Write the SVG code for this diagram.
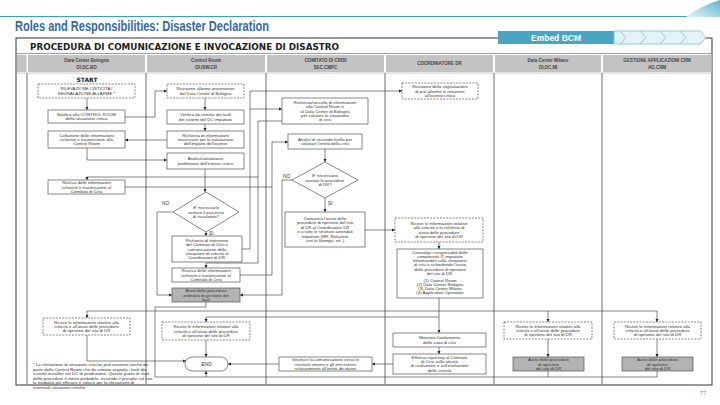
<svg xmlns="http://www.w3.org/2000/svg" width="720" height="405" viewBox="0 0 720 405">
<defs>
<style>
.t{font-family:"Liberation Sans",Arial,sans-serif;font-size:4.3px;fill:#333;text-anchor:middle}
.h{font-family:"Liberation Sans",Arial,sans-serif;font-size:4.5px;font-weight:bold;fill:#444;text-anchor:middle}
.b{fill:#fff;stroke:#555;stroke-width:0.7}
.d{fill:#fff;stroke:#555;stroke-width:0.7;stroke-dasharray:2 1.2}
.g{fill:#b3b3b3;stroke:#555;stroke-width:0.7}
.c{fill:none;stroke:#333;stroke-width:0.6}
.ca{fill:none;stroke:#333;stroke-width:0.6;marker-end:url(#ah)}
.lane{stroke:#8f8f8f;stroke-width:1.3}
.hc{fill:#c3c3c3}
.lbl{font-family:"Liberation Sans",Arial,sans-serif;font-size:4.8px;fill:#333}
.note{font-family:"Liberation Sans",Arial,sans-serif;font-size:4.4px;fill:#333}
</style>
<marker id="ah" viewBox="0 0 6 6" refX="6" refY="3" markerWidth="3.2" markerHeight="3.2" markerUnits="userSpaceOnUse" orient="auto"><path d="M0,0 L6,3 L0,6 z" fill="#222"/></marker>
<linearGradient id="sw" x1="0" y1="1" x2="1" y2="0"><stop offset="0" stop-color="#e8f5f8"/><stop offset="1" stop-color="#5cb6cb"/></linearGradient>
</defs>
<rect width="720" height="405" fill="#fff"/>

<!-- page header -->
<line x1="0" y1="16.5" x2="720" y2="16.5" stroke="#3e9fb6" stroke-width="1.2"/>
<path d="M686,17 Q700,6 720,0 L720,17 Z" fill="url(#sw)"/>
<text x="15" y="31" font-family="'Liberation Sans Narrow','Liberation Sans',Arial,sans-serif" font-size="14" font-weight="bold" fill="#3468a8" textLength="254" lengthAdjust="spacingAndGlyphs">Roles and Responsibilities: Disaster Declaration</text>

<!-- table frame -->
<rect x="16" y="38" width="696" height="347" fill="none" stroke="#333" stroke-width="1"/>
<text x="30" y="49.5" font-family="'DejaVu Sans',Verdana,sans-serif" font-size="8.3" font-weight="bold" fill="#222" textLength="309" lengthAdjust="spacingAndGlyphs">PROCEDURA DI COMUNICAZIONE E INVOCAZIONE DI DISASTRO</text>
<line x1="16" y1="53.5" x2="712" y2="53.5" stroke="#888" stroke-width="0.8"/>

<g id="embed_bcm">
<rect x="498" y="31" width="116" height="13" fill="#4aa5c3"/>
<text x="556" y="41" font-family="'Liberation Sans Narrow','Liberation Sans',Arial,sans-serif" font-size="9" font-weight="bold" fill="#fff" text-anchor="middle" textLength="50" lengthAdjust="spacingAndGlyphs">Embed BCM</text>
<polygon points="614,31 700,31 706,37.5 700,44 614,44" fill="#e4f3f8" stroke="#79c3d6" stroke-width="0.8"/>
<g fill="none" stroke="#79c3d6" stroke-width="0.8">
<polyline points="620,31 626,37.5 620,44"/><polyline points="640,31 646,37.5 640,44"/><polyline points="660,31 666,37.5 660,44"/><polyline points="680,31 686,37.5 680,44"/>
</g>
</g>

<g id="headers">
<rect class="hc" x="17" y="55" width="9.5" height="17"/>
<rect class="hc" x="28" y="55" width="117" height="17"/>
<rect class="hc" x="147" y="55" width="118" height="17"/>
<rect class="hc" x="267" y="55" width="117" height="17"/>
<rect class="hc" x="386" y="55" width="107" height="17"/>
<rect class="hc" x="495" y="55" width="106" height="17"/>
<rect class="hc" x="603" y="55" width="108.5" height="17"/>
<text class="h" x="86.5" y="61.5">Data Center Bologna</text><text class="h" x="86.5" y="68.5">OI.DC.BO</text>
<text class="h" x="206" y="61.5">Control Room</text><text class="h" x="206" y="68.5">OI.ISW.CR</text>
<text class="h" x="325.5" y="61.5">COMITATO DI CRISI</text><text class="h" x="325.5" y="68.5">SEC.CMPC</text>
<text class="h" x="439.5" y="65">COORDINATORE DR</text>
<text class="h" x="548" y="61.5">Data Center Milano</text><text class="h" x="548" y="68.5">OI.DC.MI</text>
<text class="h" x="657" y="61.5">GESTIONE APPLICAZIONI CRM</text><text class="h" x="657" y="68.5">AO.CRM</text>
</g>
<g id="lanes">
<line class="lane" x1="27" y1="73" x2="27" y2="385"/>
<line class="lane" x1="146" y1="73" x2="146" y2="385"/>
<line class="lane" x1="266" y1="73" x2="266" y2="385"/>
<line class="lane" x1="385" y1="73" x2="385" y2="385"/>
<line class="lane" x1="494" y1="73" x2="494" y2="385"/>
<line class="lane" x1="602" y1="73" x2="602" y2="385"/>
<line x1="16" y1="73" x2="712" y2="73" stroke="#aaa" stroke-width="0.6"/>
</g>

<!-- connectors -->
<g id="connectors">
<path class="ca" d="M87,98 V110"/>
<path class="ca" d="M125,117 H155 V91 H167"/>
<path class="ca" d="M205,98 V110"/>
<path class="ca" d="M205,124 V131"/>
<path class="ca" d="M167,140 H125"/>
<path class="ca" d="M87,148 V160 H167"/>
<path class="ca" d="M205,169 V192"/>
<path class="ca" d="M173,212 H157 V295 H172"/>
<path class="ca" d="M206,232 V236"/>
<path class="ca" d="M242,249 H250 V91 H402"/>
<path class="ca" d="M250,109 H282"/>
<path class="ca" d="M282,121 H258 V263 H206 V268"/>
<path class="ca" d="M258,177 H87 V180"/>
<path class="ca" d="M125,187 H272 V142 H288"/>
<path class="c" d="M240,275 H272 V187"/>
<path class="ca" d="M325,149 V162"/>
<path class="ca" d="M292,180 H282 V295 H240"/>
<path class="ca" d="M325,198 V212"/>
<path class="ca" d="M365,230 H395"/>
<path class="ca" d="M439,242 V249"/>
<path class="ca" d="M439,298 V333"/>
<path class="ca" d="M439,347 V354"/>
<path class="ca" d="M393,364 H372"/>
<path class="ca" d="M279,364 H228"/>
<path class="c" d="M87,311 H657"/>
<path class="ca" d="M87,311 V318"/>
<path class="ca" d="M548,311 V322"/>
<path class="ca" d="M657,311 V322"/>
<path class="c" d="M206,317 H439"/>
<path class="ca" d="M206,317 V322"/>
<path class="ca" d="M87,335 V361 H186"/>
<path class="ca" d="M206,340 V357"/>
<path class="c" d="M206,302 V307 H155 V377 H657"/>
<path class="ca" d="M206,377 V371"/>
<path class="ca" d="M548,339 V357"/>
<path class="ca" d="M657,339 V357"/>
<path class="c" d="M548,371 V377"/>
<path class="c" d="M657,371 V377"/>
</g>

<!-- DC Bologna -->
<g id="start"><text x="87" y="82" font-family="'DejaVu Sans',Verdana,sans-serif" font-size="6" font-weight="bold" fill="#222" text-anchor="middle">START</text></g>
<g id="n_rilevazione"><rect class="d" x="38" y="84" width="97" height="14"/>
<text class="t"><tspan x="86.5" y="90.3">RILEVAZIONE CRITICITA'/</tspan><tspan x="86.5" y="94.7">SEGNALAZIONE ALLARME *</tspan></text></g>
<g id="n_notifica"><rect class="b" x="48" y="110" width="77" height="13"/>
<text class="t"><tspan x="86.5" y="115.8">Notifica alla CONTROL ROOM</tspan><tspan x="86.5" y="120.2">della situazione critica</tspan></text></g>
<g id="n_collazione"><rect class="b" x="48" y="131" width="77" height="17"/>
<text class="t"><tspan x="86.5" y="136.6">Collazione delle informazioni</tspan><tspan x="86.5" y="141">richieste e trasmissione alla</tspan><tspan x="86.5" y="145.4">Control Room</tspan></text></g>
<g id="n_ricerca_dc"><rect class="b" x="48" y="180" width="77" height="14"/>
<text class="t"><tspan x="86.5" y="184.1">Ricerca delle informazioni</tspan><tspan x="86.5" y="188.5">richieste e trasmissione al</tspan><tspan x="86.5" y="192.9">Comitato di Crisi</tspan></text></g>
<g id="n_riceve_dcbo"><rect class="d" x="43" y="318" width="87" height="17"/>
<text class="t"><tspan x="86.5" y="323.6">Riceve le informazioni relative alla</tspan><tspan x="86.5" y="328">criticità e all'avvio delle procedure</tspan><tspan x="86.5" y="332.4">di ripristino del sito di DR</tspan></text></g>
<g id="note"><text class="note"><tspan x="33" y="366">*  La rilevazione di situazioni critiche può avvenire anche da</tspan><tspan x="33" y="370.5">parte della Control Room che da remoto segnala i fault dei</tspan><tspan x="33" y="375">sistemi installati nei DC di produzione. Questo punto di start,</tspan><tspan x="33" y="379.5">delle procedure è meno probabile, essendo il presidio sul sito</tspan><tspan x="33" y="384">la modalità più efficace e veloce per la rilevazione di</tspan><tspan x="33" y="388.5">eventuali situazioni critiche.</tspan></text></g>

<!-- Control Room -->
<g id="n_ricezione_cr"><rect class="d" x="167" y="84" width="77" height="14"/>
<text class="t"><tspan x="205.5" y="90.3">Ricezione allarme proveniente</tspan><tspan x="205.5" y="94.7">dal Data Center di Bologna</tspan></text></g>
<g id="n_verifica"><rect class="b" x="167" y="110" width="77" height="14"/>
<text class="t"><tspan x="205.5" y="116.3">Verifica da remoto dei fault</tspan><tspan x="205.5" y="120.7">dei sistemi del DC impattato</tspan></text></g>
<g id="n_richiesta_info"><rect class="b" x="167" y="131" width="77" height="17"/>
<text class="t"><tspan x="205.5" y="136.6">Richiesta di informazioni</tspan><tspan x="205.5" y="141">necessarie per la valutazione</tspan><tspan x="205.5" y="145.4">dell'impatto dell'evento</tspan></text></g>
<g id="n_analisi_cr"><rect class="b" x="167" y="153" width="77" height="16"/>
<text class="t"><tspan x="205.5" y="160.3">Analisi/valutazione</tspan><tspan x="205.5" y="164.7">preliminare dell'evento critico</tspan></text></g>
<g id="n_escalation"><polygon class="b" points="206,192 239,212 206,232 173,212"/>
<text class="t"><tspan x="206" y="209.1">E' necessario</tspan><tspan x="206" y="213.5">avviare il processo</tspan><tspan x="206" y="217.9">di escalation?</tspan></text>
<text class="lbl" x="162" y="205">NO</text><text class="lbl" x="209" y="235">SI</text></g>
<g id="n_richiesta_intervento"><rect class="b" x="172" y="236" width="70" height="26"/>
<text class="t"><tspan x="207" y="241.7">Richiesta di intervento</tspan><tspan x="207" y="246.1">del Comitato di Crisi e</tspan><tspan x="207" y="250.5">comunicazione della</tspan><tspan x="207" y="254.9">situazione di criticità al</tspan><tspan x="207" y="259.3">Coordinatore di DR.</tspan></text></g>
<g id="n_ricerca_cr"><rect class="b" x="172" y="268" width="68" height="14"/>
<text class="t"><tspan x="206" y="272.1">Ricerca delle informazioni</tspan><tspan x="206" y="276.5">richieste e trasmissione al</tspan><tspan x="206" y="280.9">Comitato di Crisi</tspan></text></g>
<g id="n_avvio_ordinaria"><rect class="g" x="172" y="288" width="68" height="14"/>
<text class="t"><tspan x="206" y="292.1">Avvio della procedura</tspan><tspan x="206" y="296.5">ordinaria di gestione dei</tspan><tspan x="206" y="300.9">fault</tspan></text></g>
<g id="n_riceve_cr"><rect class="d" x="162" y="322" width="88" height="18"/>
<text class="t"><tspan x="206" y="328.1">Riceve le informazioni relative alla</tspan><tspan x="206" y="332.5">criticità e all'avvio delle procedure</tspan><tspan x="206" y="336.9">di ripristino del sito di DR</tspan></text></g>
<g id="n_end"><rect class="b" x="185" y="357" width="43" height="14" rx="7" ry="7"/>
<text class="t" x="206.5" y="365.8" style="font-size:5px">END</text></g>

<!-- Comitato di Crisi -->
<g id="n_richiesta_raccolta"><rect class="b" x="282" y="98" width="86" height="26"/>
<text class="t"><tspan x="325" y="103.7">Richiesta/raccolta di informazioni</tspan><tspan x="325" y="108.1">alla Control Room e</tspan><tspan x="325" y="112.5">al Data Center di Bologna</tspan><tspan x="325" y="116.9">per valutare la situazione</tspan><tspan x="325" y="121.3">di crisi</tspan></text></g>
<g id="n_analisi_2"><rect class="b" x="288" y="134" width="74" height="15"/>
<text class="t"><tspan x="325" y="140.8">Analisi di secondo livello per</tspan><tspan x="325" y="145.2">valutare l'entità della crisi</tspan></text></g>
<g id="n_dr_decision"><polygon class="b" points="325,162 358,180 325,198 292,180"/>
<text class="t"><tspan x="325" y="177.1">E' necessario</tspan><tspan x="325" y="181.5">avviare le procedure</tspan><tspan x="325" y="185.9">di DR?</tspan></text>
<text class="lbl" x="283" y="178">NO</text><text class="lbl" x="328" y="205">SI</text></g>
<g id="n_comunica"><rect class="b" x="285" y="212" width="80" height="35"/>
<text class="t"><tspan x="325" y="220">Comunica l'avvio delle</tspan><tspan x="325" y="224.4">procedure di ripristino del sito</tspan><tspan x="325" y="228.8">di DR al Coordinatore DR</tspan><tspan x="325" y="233.2">e a tutte le strutture aziendali</tspan><tspan x="325" y="237.6">impattate (HR, Relazioni</tspan><tspan x="325" y="242">con la Stampa, etc.)</tspan></text></g>
<g id="n_gestisce"><rect class="b" x="279" y="357" width="93" height="14"/>
<text class="t"><tspan x="325.5" y="361.1">Gestisce la comunicazione verso le</tspan><tspan x="325.5" y="365.5">strutture interne e gli enti esterni</tspan><tspan x="325.5" y="369.9">relativamente all'entità dei danni</tspan></text></g>

<!-- Coordinatore DR -->
<g id="n_ricezione_pre"><rect class="d" x="402" y="83" width="76" height="16"/>
<text class="t"><tspan x="440" y="88.1">Ricezione della segnalazione</tspan><tspan x="440" y="92.5">di pre-allarme in relazione</tspan><tspan x="440" y="96.9">all'evento critico</tspan></text></g>
<g id="n_riceve_coord"><rect class="d" x="395" y="218" width="88" height="24"/>
<text class="t"><tspan x="439" y="224.9">Riceve le informazioni relative</tspan><tspan x="439" y="229.3">alla criticità e la richiesta di</tspan><tspan x="439" y="233.7">avvio delle procedure</tspan><tspan x="439" y="238.1">di ripristino del sito di DR</tspan></text></g>
<g id="n_coinvolge"><rect class="b" x="397" y="249" width="86" height="49"/>
<text class="t"><tspan x="440" y="253.5">Coinvolge i responsabili delle</tspan><tspan x="440" y="257.8">componenti IT impattate</tspan><tspan x="440" y="262.1">informandoli sulla situazione</tspan><tspan x="440" y="266.4">di crisi e richiedendo l'avvio</tspan><tspan x="440" y="270.7">delle procedure di ripristino</tspan><tspan x="440" y="275">del sito di DR.</tspan><tspan x="440" y="281.5">(1) Control Room</tspan><tspan x="440" y="285.8">(2) Data Center Bologna</tspan><tspan x="440" y="290.1">(3) Data Center Milano</tspan><tspan x="440" y="294.4">(4) Application Operation</tspan></text></g>
<g id="n_monitora"><rect class="b" x="393" y="333" width="93" height="14"/>
<text class="t"><tspan x="439.5" y="339.3">Monitora l'andamento</tspan><tspan x="439.5" y="343.7">dello stato di crisi</tspan></text></g>
<g id="n_effettua"><rect class="b" x="393" y="354" width="93" height="20"/>
<text class="t"><tspan x="439.5" y="358.6">Effettua reporting al Comitato</tspan><tspan x="439.5" y="363">di Crisi sulle attività</tspan><tspan x="439.5" y="367.4">di risoluzione e sull'evoluzione</tspan><tspan x="439.5" y="371.8">della criticità</tspan></text></g>

<!-- Data Center Milano -->
<g id="n_riceve_dcmi"><rect class="d" x="504" y="322" width="88" height="17"/>
<text class="t"><tspan x="548" y="327.6">Riceve le informazioni relative alla</tspan><tspan x="548" y="332">criticità e all'avvio delle procedure</tspan><tspan x="548" y="336.4">di ripristino del sito di DR</tspan></text></g>
<g id="n_avvio_dcmi"><rect class="g" x="513" y="357" width="71" height="14"/>
<text class="t"><tspan x="548.5" y="361.1">Avvio delle procedure</tspan><tspan x="548.5" y="365.5">di ripristino</tspan><tspan x="548.5" y="369.9">del sito di DR</tspan></text></g>

<!-- Gestione Applicazioni CRM -->
<g id="n_riceve_crm"><rect class="d" x="614" y="322" width="87" height="17"/>
<text class="t"><tspan x="657.5" y="327.6">Riceve le informazioni relative alla</tspan><tspan x="657.5" y="332">criticità e all'avvio delle procedure</tspan><tspan x="657.5" y="336.4">di ripristino del sito di DR</tspan></text></g>
<g id="n_avvio_crm"><rect class="g" x="622" y="357" width="71" height="14"/>
<text class="t"><tspan x="657.5" y="361.1">Avvio delle procedure</tspan><tspan x="657.5" y="365.5">di ripristino</tspan><tspan x="657.5" y="369.9">del sito di DR</tspan></text></g>

<text x="703" y="395" font-family="'Liberation Sans',Arial,sans-serif" font-size="6" fill="#3ea3b8" text-anchor="middle">77</text>
</svg>
